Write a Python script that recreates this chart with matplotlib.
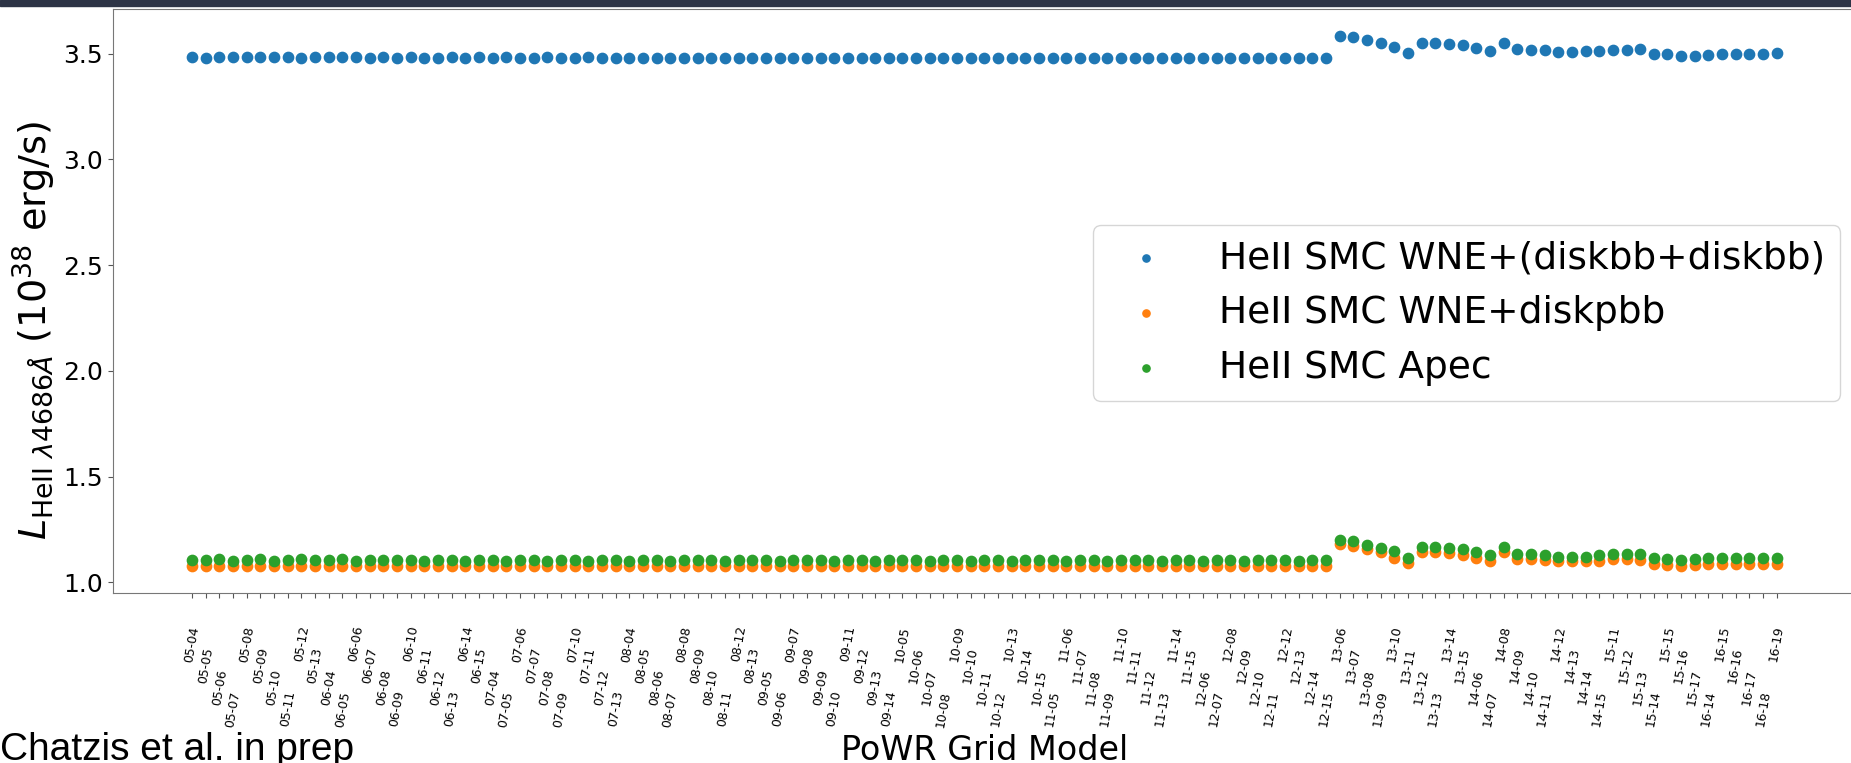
import matplotlib.pyplot as plt
from matplotlib.patches import Rectangle

# PoWR grid models (x axis)
models = [
    "05-04", "05-05", "05-06", "05-07", "05-08", "05-09", "05-10", "05-11", "05-12", "05-13",
    "06-04", "06-05", "06-06", "06-07", "06-08", "06-09", "06-10", "06-11", "06-12", "06-13", "06-14", "06-15",
    "07-04", "07-05", "07-06", "07-07", "07-08", "07-09", "07-10", "07-11", "07-12", "07-13",
    "08-04", "08-05", "08-06", "08-07", "08-08", "08-09", "08-10", "08-11", "08-12", "08-13",
    "09-05", "09-06", "09-07", "09-08", "09-09", "09-10", "09-11", "09-12", "09-13", "09-14",
    "10-05", "10-06", "10-07", "10-08", "10-09", "10-10", "10-11", "10-12", "10-13", "10-14", "10-15",
    "11-05", "11-06", "11-07", "11-08", "11-09", "11-10", "11-11", "11-12", "11-13", "11-14", "11-15",
    "12-06", "12-07", "12-08", "12-09", "12-10", "12-11", "12-12", "12-13", "12-14", "12-15",
    "13-06", "13-07", "13-08", "13-09", "13-10", "13-11", "13-12", "13-13", "13-14", "13-15",
    "14-06", "14-07", "14-08", "14-09", "14-10", "14-11", "14-12", "14-13", "14-14", "14-15",
    "15-11", "15-12", "15-13", "15-14", "15-15", "15-16", "15-17",
    "16-14", "16-15", "16-16", "16-17", "16-18", "16-19",
]

# HeII 4686 luminosity (1e38 erg/s)
lum_diskbb = [
    3.482, 3.481, 3.483, 3.483, 3.482, 3.482, 3.484, 3.482, 3.481, 3.482,
    3.482, 3.483, 3.482, 3.481, 3.482, 3.481, 3.482, 3.481, 3.481, 3.482, 3.481, 3.482,
    3.481, 3.482, 3.481, 3.481, 3.482, 3.481, 3.481, 3.482, 3.481, 3.481,
    3.480, 3.481, 3.481, 3.480, 3.481, 3.481, 3.480, 3.481, 3.481, 3.480,
    3.480, 3.481, 3.480, 3.480, 3.480, 3.481, 3.480, 3.480, 3.480, 3.480,
    3.480, 3.480, 3.479, 3.480, 3.480, 3.479, 3.480, 3.480, 3.479, 3.480, 3.479,
    3.479, 3.479, 3.480, 3.479, 3.479, 3.479, 3.478, 3.479, 3.479, 3.478, 3.479,
    3.478, 3.478, 3.479, 3.478, 3.478, 3.478, 3.477, 3.478, 3.478, 3.477,
    3.585, 3.580, 3.566, 3.550, 3.530, 3.503, 3.550, 3.550, 3.545, 3.540,
    3.527, 3.510, 3.550, 3.520, 3.518, 3.515, 3.507, 3.507, 3.510, 3.512,
    3.515, 3.518, 3.520, 3.500, 3.496, 3.487, 3.487,
    3.495, 3.500, 3.500, 3.500, 3.500, 3.503,
]

lum_diskpbb = [
    1.076, 1.076, 1.077, 1.075, 1.076, 1.077, 1.075, 1.076, 1.077, 1.076,
    1.076, 1.077, 1.075, 1.076, 1.076, 1.076, 1.076, 1.075, 1.076, 1.076, 1.075, 1.076,
    1.076, 1.075, 1.076, 1.076, 1.075, 1.076, 1.076, 1.075, 1.076, 1.076,
    1.075, 1.076, 1.076, 1.075, 1.076, 1.076, 1.076, 1.075, 1.076, 1.076,
    1.076, 1.075, 1.076, 1.076, 1.076, 1.075, 1.076, 1.076, 1.075, 1.076,
    1.076, 1.076, 1.075, 1.076, 1.076, 1.075, 1.076, 1.076, 1.075, 1.076, 1.076,
    1.076, 1.075, 1.076, 1.076, 1.075, 1.076, 1.076, 1.076, 1.075, 1.076, 1.076,
    1.075, 1.076, 1.076, 1.075, 1.076, 1.076, 1.076, 1.075, 1.076, 1.076,
    1.180, 1.172, 1.158, 1.143, 1.117, 1.091, 1.143, 1.143, 1.138, 1.130,
    1.117, 1.102, 1.143, 1.111, 1.111, 1.106, 1.099, 1.099, 1.099, 1.103,
    1.110, 1.110, 1.106, 1.088, 1.083, 1.075, 1.083,
    1.088, 1.088, 1.088, 1.088, 1.088, 1.088,
]

lum_apec = [
    1.104, 1.104, 1.108, 1.100, 1.104, 1.108, 1.100, 1.104, 1.108, 1.104,
    1.104, 1.108, 1.100, 1.104, 1.104, 1.104, 1.104, 1.100, 1.104, 1.104, 1.100, 1.104,
    1.104, 1.100, 1.104, 1.104, 1.100, 1.104, 1.104, 1.100, 1.104, 1.104,
    1.100, 1.104, 1.104, 1.100, 1.104, 1.104, 1.104, 1.100, 1.104, 1.104,
    1.104, 1.100, 1.104, 1.104, 1.104, 1.100, 1.104, 1.104, 1.100, 1.104,
    1.104, 1.104, 1.100, 1.104, 1.104, 1.100, 1.104, 1.104, 1.100, 1.104, 1.104,
    1.104, 1.100, 1.104, 1.104, 1.100, 1.104, 1.104, 1.104, 1.100, 1.104, 1.104,
    1.100, 1.104, 1.104, 1.100, 1.104, 1.104, 1.104, 1.100, 1.104, 1.104,
    1.201, 1.195, 1.178, 1.164, 1.146, 1.117, 1.167, 1.167, 1.162, 1.156,
    1.143, 1.128, 1.167, 1.135, 1.135, 1.130, 1.122, 1.122, 1.122, 1.130,
    1.133, 1.133, 1.133, 1.115, 1.112, 1.107, 1.112,
    1.115, 1.115, 1.115, 1.115, 1.115, 1.115,
]

series_names = ["HeII SMC WNE+(diskbb+diskbb)", "HeII SMC WNE+diskpbb", "HeII SMC Apec"]

fig = plt.figure(figsize=(18.51, 7.63), dpi=100)
# axes run slightly past the right edge, like the cropped original
ax = fig.add_axes([0.0610, 0.2228, 0.9417, 0.7654])

x = list(range(len(models)))
for vals, name in zip([lum_diskbb, lum_diskpbb, lum_apec], series_names):
    ax.scatter(x, vals, s=55, label=name)

ax.set_xticks(x)
ax.set_xticklabels(models, rotation=80, fontsize=9)
# stagger the crowded labels on four levels
for i, tick in enumerate(ax.xaxis.get_major_ticks()):
    tick.set_pad(19.5 + 15.6 * (i % 4))

ax.set_yticks([1.0, 1.5, 2.0, 2.5, 3.0, 3.5])
ax.tick_params(axis="y", labelsize=18)
ax.tick_params(colors="#555555", labelcolor="black")
for sp in ax.spines.values():
    sp.set_color("#777777")

ax.set_xlabel("PoWR Grid Model", fontsize=24, labelpad=4)
ax.set_ylabel(r"$L_{\mathrm{HeII}\ \lambda4686\AA}$ (10$^{38}$ erg/s)", fontsize=27.5)
ax.yaxis.label.set_y(0.45)

ax.legend(fontsize=27, handletextpad=0.95, markerscale=0.7, loc="upper right",
          bbox_to_anchor=(1840 / 1851, 1 - 225 / 763), bbox_transform=fig.transFigure,
          borderaxespad=0)

# dark slide band at the very top
fig.patches.append(Rectangle((0, 1 - 6 / 763), 1, 6 / 763, transform=fig.transFigure,
                             color="#2d3446", zorder=10))
fig.text(0.0, 0.004, "Chatzis et al. in prep", fontsize=28, family="Liberation Sans",
         va="baseline", ha="left")

fig.savefig("out.png", dpi=100)
